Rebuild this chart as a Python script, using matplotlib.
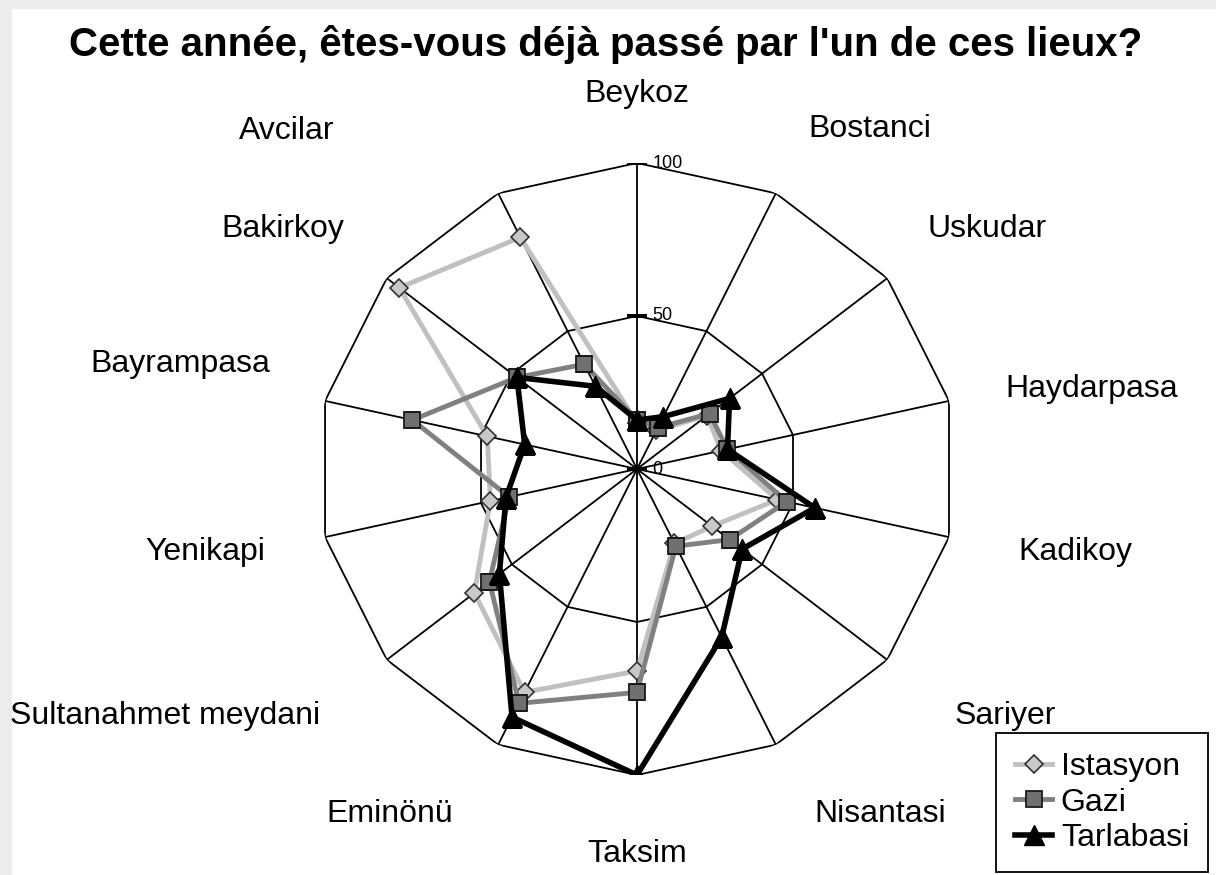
import numpy as np
import matplotlib
matplotlib.use("Agg")
import matplotlib.pyplot as plt
from matplotlib.patches import Rectangle

plt.rcParams['font.family'] = ['Liberation Sans', 'DejaVu Sans']

# data (% of respondents)
lieux = ["Beykoz", "Bostanci", "Uskudar", "Haydarpasa", "Kadikoy", "Sariyer",
         "Nisantasi", "Taksim", "Eminönü", "Sultanahmet meydani", "Yenikapi",
         "Bayrampasa", "Bakirkoy", "Avcilar"]
istasyon = [15, 14, 28, 27, 45, 30, 27, 66, 81, 65, 47, 48, 95, 84]
gazi = [16, 15, 29, 29, 48, 37, 28, 73, 85, 59, 41, 72, 48, 38]
tarlabasi = [16, 19, 37, 29, 57, 42, 61, 100, 90, 55, 42, 36, 48, 30]
rticks = [0, 50, 100]

# where excel put the category labels (angle in deg clockwise from top, radius)
lab_ang = [0, 33.2, 54.4, 79.6, 101.2, 125.1, 146, 180, 214.4, 241.3, 258.6, 283.5, 305.3, 315.3]
lab_r = [122.5, 132.8, 134.6, 144.6, 139.6, 140.5, 135.9, 125.8, 136.6, 168.1, 137.7, 146.9, 135.8, 155.5]

n = len(lieux)
theta = np.arange(n) * 2 * np.pi / n
th_closed = np.append(theta, theta[0])

def closed(v):
    return np.append(v, v[0])

fig = plt.figure(figsize=(12.16, 8.75), dpi=100)
fig.patch.set_facecolor('#ececec')
fig.patches.append(Rectangle((12 / 1216, 0), 1, 1 - 9 / 875, transform=fig.transFigure,
                             facecolor='white', edgecolor='none', zorder=-1))

ax = fig.add_axes([317 / 1216, 100 / 875, 640 / 1216, 612 / 875], projection='polar')
ax.set_aspect('auto')
ax.set_theta_zero_location('N')
ax.set_theta_direction(-1)
ax.set_ylim(0, 100)
ax.grid(False)
ax.set_xticks([])
ax.set_yticks([])
ax.spines['polar'].set_visible(False)
ax.patch.set_visible(False)

# polygon grid + spokes
for r in rticks[1:]:
    ax.plot(th_closed, [r] * (n + 1), color='black', lw=1.3, zorder=1)
for t in theta:
    ax.plot([t, t], [0, 100], color='black', lw=1.3, zorder=1)
ax.plot([0] * len(rticks), rticks, ls='none', marker='_', markersize=14,
        markeredgewidth=1.5, color='black', zorder=1)
for r in rticks:
    ax.annotate(str(r), (0, r), xytext=(11, 0), textcoords='offset points',
                ha='left', va='center', fontsize=13, zorder=1)

# series
ax.plot(th_closed, closed(istasyon), color='#c0c0c0', lw=3.5, marker='D', markersize=9,
        markerfacecolor='#c8c8c8', markeredgecolor='#333333', markeredgewidth=1.2,
        label='Istasyon', zorder=3)
ax.plot(th_closed, closed(gazi), color='#808080', lw=3.5, marker='s', markersize=12,
        markerfacecolor='#707070', markeredgecolor='#1a1a1a', markeredgewidth=1.3,
        label='Gazi', zorder=4)
ax.plot(th_closed, closed(tarlabasi), color='black', lw=4, marker='^', markersize=14,
        markerfacecolor='black', markeredgecolor='black', label='Tarlabasi', zorder=5)

for name, a, r in zip(lieux, lab_ang, lab_r):
    ax.text(np.deg2rad(a), r, name, ha='center', va='center', fontsize=23, clip_on=False)

fig.text(606 / 1216, 1 - 56 / 875, "Cette année, êtes-vous déjà passé par l'un de ces lieux?",
         ha='center', va='baseline', fontsize=29, fontweight='bold')

leg = fig.legend(loc='upper left', bbox_to_anchor=(996 / 1216, 1 - 733 / 875), borderaxespad=0,
                 fontsize=23, frameon=True, fancybox=False, framealpha=1, edgecolor='black',
                 handlelength=1.15, handletextpad=0.28, borderpad=0.6, labelspacing=0.17)
leg.get_frame().set_linewidth(1.3)

fig.savefig('out.png', dpi=100)
